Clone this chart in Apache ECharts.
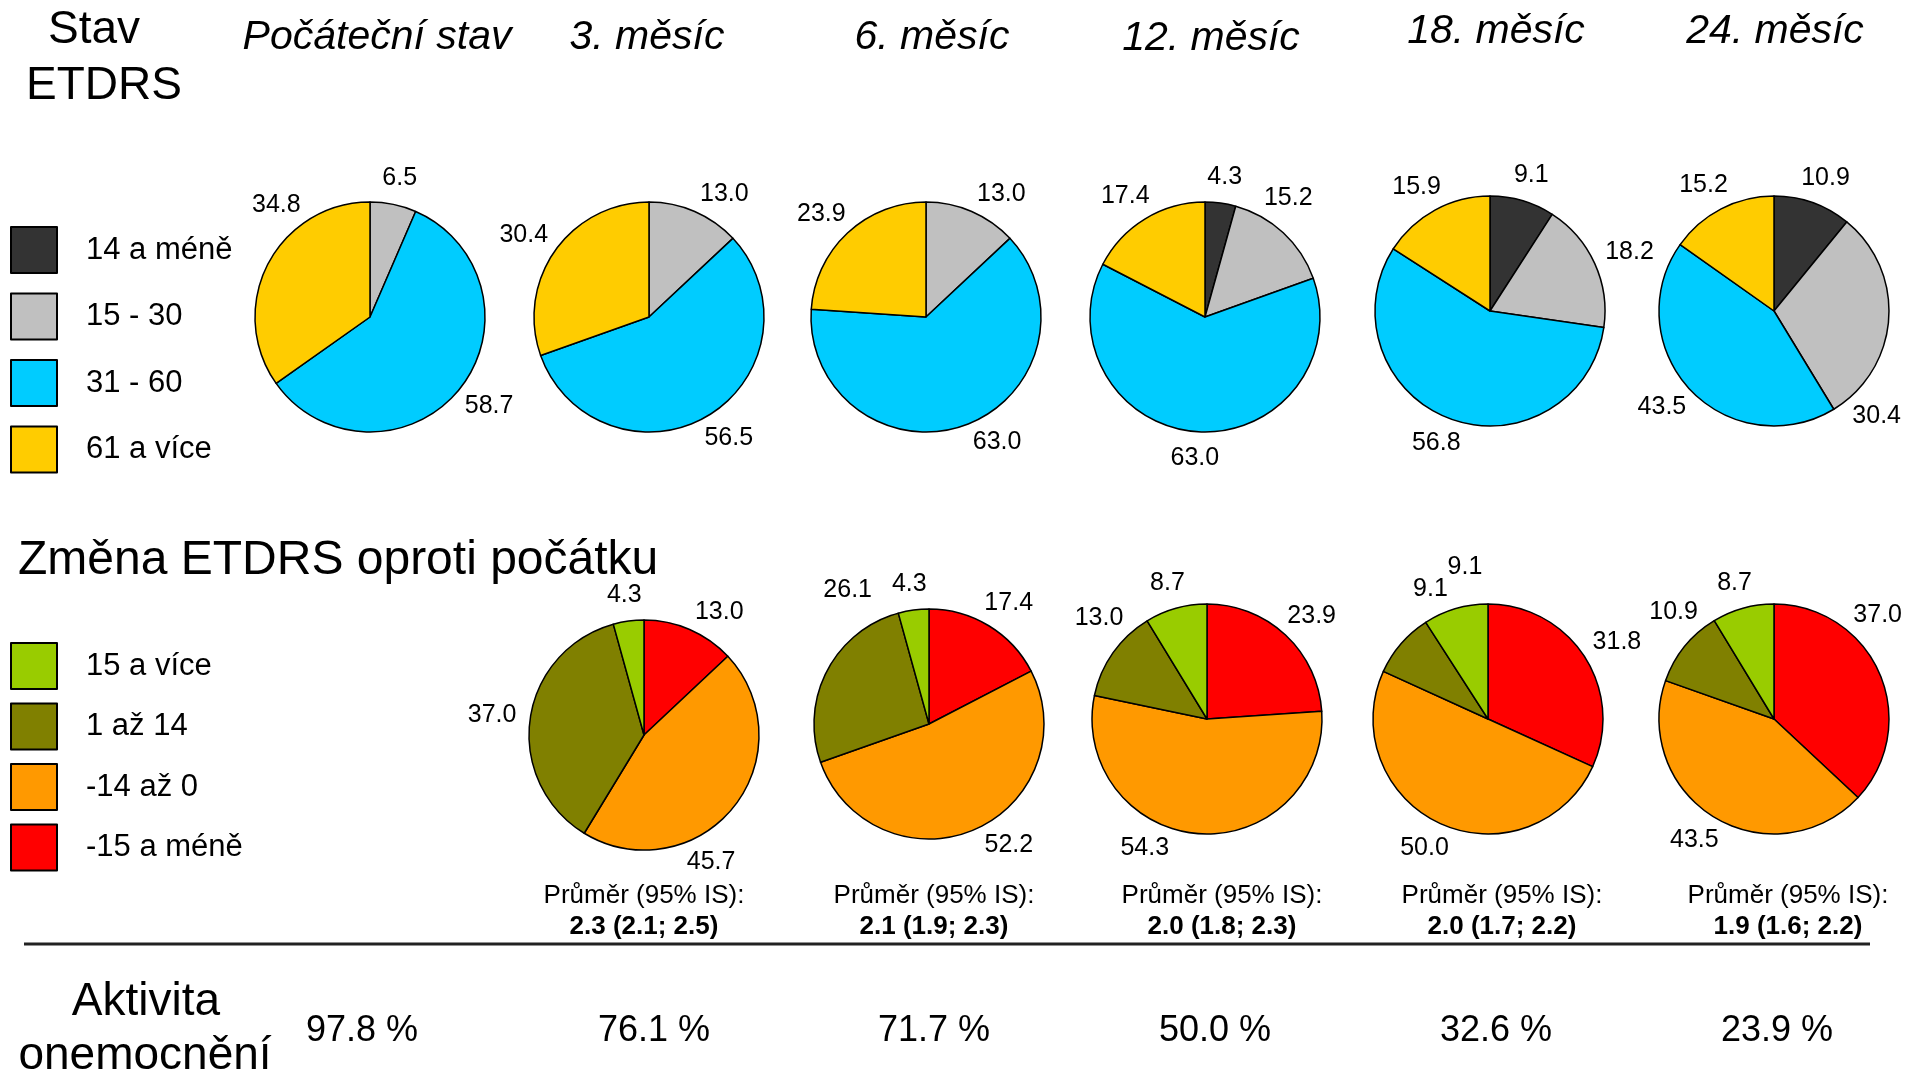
<!DOCTYPE html>
<html><head><meta charset="utf-8">
<script src="https://cdn.jsdelivr.net/npm/echarts@6/dist/echarts.min.js"></script>
<style>html,body{margin:0;padding:0;background:#fff}#c{width:1907px;height:1077px}</style>
</head><body><div id="c"></div>
<script>
// ---------------- DATA ----------------
const timepoints = ['Počáteční stav', '3. měsíc', '6. měsíc', '12. měsíc', '18. měsíc', '24. měsíc'];

// Stav ETDRS (clockwise from 12 o'clock)
const stavCategories = ['14 a méně', '15 - 30', '31 - 60', '61 a více'];
const stav_pocatek = [0, 6.5, 58.7, 34.8];
const stav_m3 = [0, 13.0, 56.5, 30.4];
const stav_m6 = [0, 13.0, 63.0, 23.9];
const stav_m12 = [4.3, 15.2, 63.0, 17.4];
const stav_m18 = [9.1, 18.2, 56.8, 15.9];
const stav_m24 = [10.9, 30.4, 43.5, 15.2];

// Změna ETDRS oproti počátku (clockwise from 12 o'clock)
const zmenaCategories = ['-15 a méně', '-14 až 0', '1 až 14', '15 a více'];
const zmenaLegendOrder = ['15 a více', '1 až 14', '-14 až 0', '-15 a méně'];
const zmena_m3 = [13.0, 45.7, 37.0, 4.3];
const zmena_m6 = [17.4, 52.2, 26.1, 4.3];
const zmena_m12 = [23.9, 54.3, 13.0, 8.7];
const zmena_m18 = [31.8, 50.0, 9.1, 9.1];
const zmena_m24 = [37.0, 43.5, 10.9, 8.7];

// Průměr (95% IS) for months 3..24
const prumerMean = [2.3, 2.1, 2.0, 2.0, 1.9];
const prumerLow = [2.1, 1.9, 1.8, 1.7, 1.6];
const prumerHigh = [2.5, 2.3, 2.3, 2.2, 2.2];

// Aktivita onemocnění (%)
const aktivita = [97.8, 76.1, 71.7, 50.0, 32.6, 23.9];

// ---------------- LAYOUT / STYLE ----------------
const FONT = "'Liberation Sans', Arial, Helvetica, sans-serif";
const stavColors = ['#333333', '#C0C0C0', '#00CCFF', '#FFCC00'];
const zmenaColors = ['#FF0000', '#FF9900', '#808000', '#99CC00'];
const stavCenters = [[370, 317], [649, 317], [926, 317], [1205, 317], [1490, 311], [1774, 311]];
const zmenaCenters = [[644, 735], [929, 724], [1207, 719], [1488, 719], [1774, 719]];
const PIE_R = 115;
const LABEL_GAP = 14;
// label placement nudges (degrees along the circle, extra radial px)
const stavLabelAngle = [[0, 0, 0, 25], [0, 6, 0, 0], [0, 6, -8, 0], [0, -10, 0, 0], [0, 0, 0, 0], [0, 44, 0, 0]];
const stavLabelPush = [[0, 0, 0, 0], [0, 0, 0, 0], [0, 0, 0, 0], [0, 0, 0, 0], [0, 0, 0, 0], [0, 0, 0, 0]];
const zmenaLabelAngle = [[6, 25, 0, 0], [0, -8, 33, 0], [0, 20, 10, 0], [0, 0, 26, 8], [-24, 0, 10, 0]];
const zmenaLabelPush = [[0, 0, 0, 0], [0, 0, 12, 0], [0, 0, 0, 0], [0, 0, 0, 12], [0, 0, 0, 0]];
const titleX = [377, 647, 932, 1211, 1496, 1775];
const titleY = [38, 38, 38, 39, 32, 32];
const prumerX = [644, 934, 1222, 1502, 1788];
const aktivitaX = [362, 654, 934, 1215, 1496, 1777];

const series = [];
function addPie(values, cats, colors, center, angShift, push) {
  const sum = values.reduce((a, b) => a + b, 0);
  let acc = 0;
  const data = [];
  const items = [];
  values.forEach((v, k) => {
    const mid = (acc + v / 2) / sum * 360;
    acc += v;
    if (v > 0) {
      data.push({ name: cats[k], value: v, itemStyle: { color: colors[k] } });
      items.push({ mid: mid + angShift[k], push: push[k] });
    }
  });
  series.push({
    type: 'pie',
    center: center,
    radius: PIE_R,
    startAngle: 90,
    clockwise: true,
    silent: true,
    animation: false,
    avoidLabelOverlap: false,
    data: data,
    itemStyle: { borderColor: '#000', borderWidth: 1.5 },
    label: {
      show: true, position: 'outside', color: '#000', fontSize: 25, fontFamily: FONT,
      formatter: p => p.value.toFixed(1)
    },
    labelLine: { show: false },
    emphasis: { disabled: true },
    labelLayout: function (p) {
      const it = items[p.dataIndex];
      const th = it.mid * Math.PI / 180;
      const s = Math.sin(th), c = Math.cos(th);
      const w = p.labelRect.width, h = p.labelRect.height;
      const rr = PIE_R + LABEL_GAP + it.push;
      return {
        x: center[0] + s * (rr + w / 2),
        y: center[1] - c * (rr + h / 2),
        align: 'center', verticalAlign: 'middle'
      };
    }
  });
}

const stavAll = [stav_pocatek, stav_m3, stav_m6, stav_m12, stav_m18, stav_m24];
stavAll.forEach((v, i) => addPie(v, stavCategories, stavColors, stavCenters[i], stavLabelAngle[i], stavLabelPush[i]));
const zmenaAll = [zmena_m3, zmena_m6, zmena_m12, zmena_m18, zmena_m24];
zmenaAll.forEach((v, i) => addPie(v, zmenaCategories, zmenaColors, zmenaCenters[i], zmenaLabelAngle[i], zmenaLabelPush[i]));

function txt(x, y, text, font, align) {
  return {
    type: 'text', x: x, y: y, silent: true,
    style: {
      text: text, font: font, fill: '#000',
      textAlign: align || 'center', align: align || 'center',
      textVerticalAlign: 'middle', verticalAlign: 'middle'
    }
  };
}

const graphics = [];
graphics.push(txt(94, 30, 'Stav', '46px ' + FONT));
graphics.push(txt(104, 86, 'ETDRS', '46px ' + FONT));
timepoints.forEach((t, i) => graphics.push(txt(titleX[i], titleY[i], t, 'italic 41px ' + FONT)));
graphics.push(txt(18, 561, 'Změna ETDRS oproti počátku', '48px ' + FONT, 'left'));
prumerMean.forEach((m, i) => {
  graphics.push(txt(prumerX[i], 896, 'Průměr (95% IS):', '26px ' + FONT));
  graphics.push(txt(prumerX[i], 927, m.toFixed(1) + ' (' + prumerLow[i].toFixed(1) + '; ' + prumerHigh[i].toFixed(1) + ')', 'bold 26px ' + FONT));
});
graphics.push({ type: 'line', silent: true, shape: { x1: 24, y1: 944, x2: 1870, y2: 944 }, style: { stroke: '#222', lineWidth: 3 } });
graphics.push(txt(146, 1002, 'Aktivita', '46px ' + FONT));
graphics.push(txt(145, 1056, 'onemocnění', '46px ' + FONT));
aktivita.forEach((a, i) => graphics.push(txt(aktivitaX[i], 1031, a.toFixed(1) + ' %', '36px ' + FONT)));

const legendCommon = {
  orient: 'vertical', icon: 'rect', itemWidth: 46, itemHeight: 46,
  selectedMode: false, padding: 0,
  itemStyle: { borderColor: '#000', borderWidth: 2 },
  textStyle: { fontSize: 31, color: '#000', fontFamily: FONT, padding: [0, 0, 0, 24] }
};

const chart = echarts.init(document.getElementById('c'));
chart.setOption({
  backgroundColor: '#fff',
  animation: false,
  legend: [
    Object.assign({}, legendCommon, { data: stavCategories, left: 10, top: 226, itemGap: 18.5 }),
    Object.assign({}, legendCommon, { data: zmenaLegendOrder, left: 10, top: 642, itemGap: 12.5 })
  ],
  series: series,
  graphic: graphics
});
</script>
</body></html>
